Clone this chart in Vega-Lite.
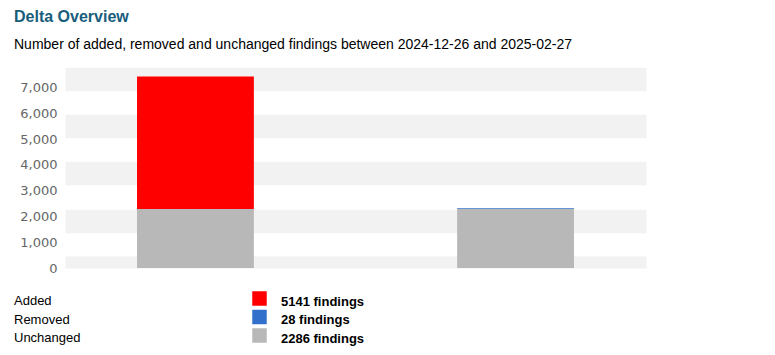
{
  "$schema": "https://vega.github.io/schema/vega-lite/v6.json",
  "width": 581,
  "height": 201,
  "autosize": {"type": "none"},
  "padding": {"left": 65, "top": 67, "right": 129, "bottom": 87},
  "background": "white",
  "title": {
    "text": "Delta Overview",
    "subtitle": "Number of added, removed and unchanged findings between 2024-12-26 and 2025-02-27",
    "anchor": "start",
    "frame": "group",
    "dx": -51,
    "font": "Liberation Sans",
    "fontSize": 16,
    "fontWeight": "bold",
    "color": "#185d7c",
    "subtitleFont": "Liberation Sans",
    "subtitleFontSize": 14,
    "subtitleColor": "#000000",
    "subtitlePadding": 13,
    "offset": 15
  },
  "data": {
    "values": [
      {"snapshot": "2025-02-27", "status": "Unchanged", "count": 2286},
      {"snapshot": "2025-02-27", "status": "Added", "count": 5141},
      {"snapshot": "2024-12-26", "status": "Unchanged", "count": 2286},
      {"snapshot": "2024-12-26", "status": "Removed", "count": 28}
    ]
  },
  "layer": [
    {
      "mark": {"type": "bar"},
      "encoding": {
        "x": {
          "field": "snapshot",
          "type": "nominal",
          "sort": ["2025-02-27", "2024-12-26"],
          "axis": null,
          "scale": {"paddingInner": 0.635, "paddingOuter": 0.225}
        },
        "y": {
          "field": "count",
          "type": "quantitative",
          "stack": "zero",
          "scale": {"domain": [0, 7798], "nice": false},
          "axis": {
            "values": [0, 1000, 2000, 3000, 4000, 5000, 6000, 7000],
            "format": ",d",
            "grid": false,
            "ticks": false,
            "domain": false,
            "title": null,
            "labelFont": "DejaVu Sans",
            "labelFontSize": 13,
            "labelColor": "#666666",
            "labelPadding": 8
          }
        },
        "color": {
          "field": "status",
          "type": "nominal",
          "scale": {
            "domain": ["Added", "Removed", "Unchanged"],
            "range": ["#ff0000", "#3370cc", "#b8b8b8"]
          },
          "legend": {
            "orient": "none",
            "legendX": -51,
            "legendY": 224,
            "direction": "vertical",
            "padding": 0,
            "title": ["Added", "Removed", "Unchanged"],
            "titleOrient": "left",
            "titleAnchor": "start",
            "titleAlign": "left",
            "titleBaseline": "line-top",
            "titleFont": "Liberation Sans",
            "titleFontSize": 13,
            "titleFontWeight": "normal",
            "titleColor": "#000000",
            "titleLineHeight": 18.5,
            "titlePadding": 171,
            "symbolType": "square",
            "symbolSize": 210,
            "symbolStrokeWidth": 0,
            "symbolOpacity": 1,
            "labelFont": "Liberation Sans",
            "labelFontSize": 13,
            "labelFontWeight": "bold",
            "labelColor": "#000000",
            "labelOffset": 14,
            "rowPadding": 0.5,
            "labelExpr": "datum.label == 'Added' ? '5141 findings' : datum.label == 'Removed' ? '28 findings' : '2286 findings'",
            "encode": {
              "labels": {"update": {"dy": {"value": 3}}},
              "title": {"update": {"dy": {"value": 1}}}
            }
          }
        },
        "order": {"field": "status", "sort": "descending"}
      }
    },
    {
      "mark": {"type": "rule", "opacity": 0},
      "encoding": {
        "y": {
          "datum": 0,
          "type": "quantitative",
          "axis": {
            "orient": "right",
            "values": [233, 1833, 3676, 5498, 7331],
            "grid": true,
            "gridColor": "#f2f2f2",
            "gridWidth": {"condition": {"test": "datum.value < 500", "value": 12}, "value": 23.5},
            "labels": false,
            "ticks": false,
            "domain": false,
            "title": null
          }
        }
      }
    }
  ],
  "resolve": {"axis": {"y": "independent"}},
  "config": {"view": {"stroke": null}}
}
